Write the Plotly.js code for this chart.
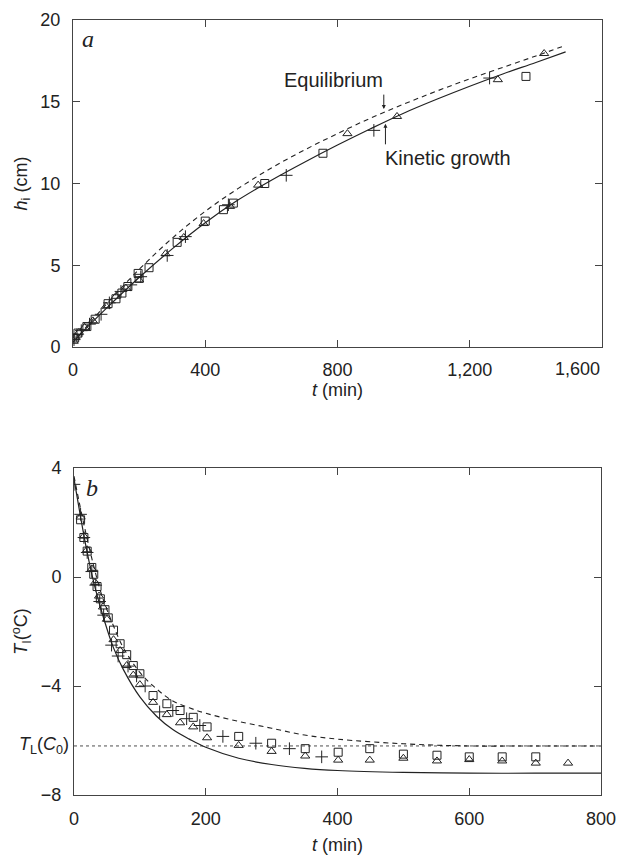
<!DOCTYPE html>
<html>
<head>
<meta charset="utf-8">
<script src="https://cdn.plot.ly/plotly-3.0.1.min.js"></script>
<style>html,body{margin:0;padding:0;background:#fff;}</style>
</head>
<body>
<div id="chart" style="width:621px;height:858px;"></div>
<script>
// ---------- Panel a: interface height h_i (cm) vs t (min) ----------
const aCurveT = [0, 50, 100, 200, 300, 400, 500, 600, 700, 800, 900, 1000, 1100, 1200, 1300, 1400, 1490];
const aKinetic = [0.3, 1.35, 2.35, 4.25, 6.0, 7.6, 9.0, 10.2, 11.3, 12.35, 13.35, 14.3, 15.15, 15.95, 16.7, 17.4, 18.05];
const aEquil   = [0.3, 1.45, 2.6, 4.75, 6.65, 8.3, 9.7, 10.95, 12.05, 13.05, 14.0, 14.85, 15.65, 16.4, 17.1, 17.8, 18.45];

const aTriT = [2, 8, 18, 35, 60, 100, 130, 160, 200, 280, 335, 395, 475, 560, 830, 980, 1285, 1425];
const aTriH = [0.35, 0.6, 0.9, 1.2, 1.6, 2.5, 3.1, 3.6, 4.1, 5.7, 6.7, 7.55, 8.6, 9.9, 13.05, 14.1, 16.35, 17.95];
const aPlusT = [3, 12, 25, 50, 85, 110, 145, 175, 205, 285, 340, 470, 645, 910, 1260];
const aPlusH = [0.45, 0.75, 1.0, 1.4, 2.0, 2.7, 3.4, 3.8, 4.3, 5.6, 6.75, 8.7, 10.5, 13.25, 16.45];
const aSqT = [5, 15, 42, 67, 106, 130, 148, 166, 197, 200, 230, 315, 400, 455, 485, 580, 756, 1370];
const aSqH = [0.55, 0.85, 1.25, 1.7, 2.65, 2.95, 3.3, 3.7, 4.5, 4.2, 4.85, 6.4, 7.7, 8.4, 8.8, 10.0, 11.85, 16.55];

const aXTicks = [0, 400, 800, 1200, 1600];
const aXTickText = ['0', '400', '800', '1,200', ''];
const aLastTickText = '1,600';
const aYTicks = [0, 5, 10, 15, 20];

// ---------- Panel b: interface temperature T_I (°C) vs t (min) ----------
const bCurveT = [0, 10, 20, 30, 40, 50, 60, 75, 100, 125, 150, 175, 200, 250, 300, 350, 400, 500, 600, 700, 800];
const bKinetic = [3.6, 2.2, 0.9, -0.2, -1.1, -1.9, -2.6, -3.4, -4.4, -5.1, -5.6, -5.95, -6.25, -6.65, -6.88, -7.02, -7.1, -7.17, -7.2, -7.2, -7.2];
const bEquil   = [3.7, 2.5, 1.4, 0.4, -0.5, -1.2, -1.8, -2.6, -3.5, -4.1, -4.55, -4.8, -5.0, -5.3, -5.55, -5.8, -5.95, -6.12, -6.2, -6.2, -6.2];
const bLiquidusT = [0, 800];
const bLiquidus = [-6.2, -6.2];

const bSqT = [10, 15, 20, 27, 30, 35, 40, 47, 52, 60, 70, 80, 90, 100, 120, 141, 161, 181, 202, 250, 300, 351, 401, 449, 500, 551, 600, 650, 701];
const bSqV = [2.1, 1.45, 0.95, 0.35, 0.1, -0.35, -0.8, -1.2, -1.5, -1.95, -2.45, -2.85, -3.25, -3.55, -4.35, -4.65, -4.9, -5.15, -5.5, -5.85, -6.1, -6.3, -6.43, -6.3, -6.5, -6.54, -6.6, -6.6, -6.6];
const bTriT = [10, 15, 20, 27, 32, 38, 44, 50, 60, 70, 80, 90, 100, 120, 141, 161, 181, 202, 250, 300, 351, 401, 449, 500, 551, 600, 650, 701, 750];
const bTriV = [2.2, 1.5, 1.0, 0.3, -0.2, -0.7, -1.1, -1.55, -2.3, -2.7, -3.25, -3.6, -3.95, -4.6, -5.05, -5.35, -5.5, -5.9, -6.18, -6.4, -6.57, -6.72, -6.72, -6.65, -6.75, -6.7, -6.75, -6.83, -6.83];
const bPlusT = [0, 10, 15, 20, 27, 33, 39, 45, 57, 67, 82, 95, 108, 130, 150, 171, 191, 226, 276, 327, 376];
const bPlusV = [3.4, 2.3, 1.45, 0.9, 0.2, -0.3, -0.9, -1.4, -2.5, -2.9, -3.27, -3.63, -4.0, -4.95, -4.9, -5.2, -5.45, -5.85, -6.1, -6.3, -6.6];

const bXTicks = [0, 200, 400, 600, 800];
const bYTicks = [4, 0, -4, -8];
const bYTickText = ['4', '0', '\u22124', '\u22128'];

// ---------- styling ----------
const FONT = 'Liberation Sans, Arial, sans-serif';
const INK = '#222';
const mk = (sym, size) => ({symbol: sym, size: size, color: INK, line: {color: INK, width: 1}});

const traces = [
  {x: aCurveT, y: aEquil, xaxis: 'x', yaxis: 'y', mode: 'lines', line: {color: INK, width: 1.1, dash: '5px,4px', shape: 'spline'}},
  {x: aCurveT, y: aKinetic, xaxis: 'x', yaxis: 'y', mode: 'lines', line: {color: INK, width: 1.2, shape: 'spline'}},
  {x: aTriT, y: aTriH, xaxis: 'x', yaxis: 'y', mode: 'markers', marker: mk('triangle-up-open', 8)},
  {x: aPlusT, y: aPlusH, xaxis: 'x', yaxis: 'y', mode: 'markers', marker: mk('cross-thin-open', 9)},
  {x: aSqT, y: aSqH, xaxis: 'x', yaxis: 'y', mode: 'markers', marker: mk('square-open', 8)},

  {x: bLiquidusT, y: bLiquidus, xaxis: 'x2', yaxis: 'y2', mode: 'lines', line: {color: INK, width: 0.8, dash: 'dot'}},
  {x: bCurveT, y: bEquil, xaxis: 'x2', yaxis: 'y2', mode: 'lines', line: {color: INK, width: 1.1, dash: '5px,4px', shape: 'spline'}},
  {x: bCurveT, y: bKinetic, xaxis: 'x2', yaxis: 'y2', mode: 'lines', line: {color: INK, width: 1.2, shape: 'spline'}},
  {x: bTriT, y: bTriV, xaxis: 'x2', yaxis: 'y2', mode: 'markers', marker: mk('triangle-up-open', 8)},
  {x: bPlusT, y: bPlusV, xaxis: 'x2', yaxis: 'y2', mode: 'markers', marker: mk('cross-thin-open', 9)},
  {x: bSqT, y: bSqV, xaxis: 'x2', yaxis: 'y2', mode: 'markers', marker: mk('square-open', 8)}
];

const axisCommon = {
  showline: true, mirror: 'ticks', linecolor: '#444', linewidth: 1,
  ticks: 'inside', ticklen: 7, tickcolor: '#444', tickwidth: 1,
  showgrid: false, zeroline: false, fixedrange: true,
  tickfont: {family: FONT, size: 18, color: INK}
};

const layout = {
  width: 621, height: 858,
  margin: {l: 0, r: 0, t: 0, b: 0},
  paper_bgcolor: '#fff', plot_bgcolor: '#fff',
  showlegend: false,
  font: {family: FONT, color: INK},
  xaxis: Object.assign({}, axisCommon, {
    domain: [73/621, 602/621], anchor: 'y', range: [0, 1600],
    tickvals: aXTicks, ticktext: aXTickText, ticklabelstandoff: 6,
    title: {text: '<i>t</i> (min)', font: {family: FONT, size: 18, color: INK}, standoff: 1}
  }),
  yaxis: Object.assign({}, axisCommon, {
    domain: [1 - 347/858, 1 - 20/858], anchor: 'x', range: [0, 20],
    tickvals: aYTicks, ticklabelstandoff: 8,
    title: {text: '<i>h</i><sub>i</sub> (cm)', font: {family: FONT, size: 18, color: INK}, standoff: 8}
  }),
  xaxis2: Object.assign({}, axisCommon, {
    domain: [74/621, 601/621], anchor: 'y2', range: [0, 800],
    tickvals: bXTicks, ticklabelstandoff: 7,
    title: {text: '<i>t</i> (min)', font: {family: FONT, size: 18, color: INK}, standoff: 10}
  }),
  yaxis2: Object.assign({}, axisCommon, {
    domain: [1 - 795/858, 1 - 468/858], anchor: 'x2', range: [-8, 4],
    tickvals: bYTicks, ticktext: bYTickText, ticklabelstandoff: 8,
    title: {text: '<i>T</i><sub>I</sub>(<sup>o</sup>C)', font: {family: FONT, size: 18, color: INK}, standoff: 8}
  }),
  annotations: [
    {xref: 'x', yref: 'y', x: 1600, y: 0, xanchor: 'right', yanchor: 'top', yshift: -10,
     text: aLastTickText, showarrow: false, font: {family: FONT, size: 18, color: INK}},
    {xref: 'x', yref: 'y', x: 46, y: 18.85, text: '<i>a</i>', showarrow: false,
     font: {family: 'Liberation Serif, serif', size: 24, color: INK}},
    {xref: 'x2', yref: 'y2', x: 28, y: 3.25, text: '<i>b</i>', showarrow: false,
     font: {family: 'Liberation Serif, serif', size: 24, color: INK}},
    {xref: 'x', yref: 'y', x: 788, y: 16.35, text: 'Equilibrium', showarrow: false,
     font: {family: FONT, size: 20, color: INK}},
    {xref: 'x', yref: 'y', x: 940, y: 14.55, ax: 0, ay: -16, text: '', showarrow: true,
     arrowhead: 2, arrowsize: 0.8, arrowwidth: 1, arrowcolor: INK},
    {xref: 'x', yref: 'y', x: 1135, y: 11.55, text: 'Kinetic growth', showarrow: false,
     font: {family: FONT, size: 20, color: INK}},
    {xref: 'x', yref: 'y', x: 945, y: 13.65, ax: 0, ay: 22, text: '', showarrow: true,
     arrowhead: 2, arrowsize: 0.8, arrowwidth: 1, arrowcolor: INK},
    {xref: 'paper', yref: 'y2', x: 71/621, y: -6.2, xanchor: 'right', text: '<i>T</i><sub>L</sub>(<i>C</i><sub>0</sub>)',
     showarrow: false, font: {family: FONT, size: 18, color: INK}}
  ]
};

Plotly.newPlot('chart', traces, layout, {displayModeBar: false, staticPlot: true});
</script>
</body>
</html>
